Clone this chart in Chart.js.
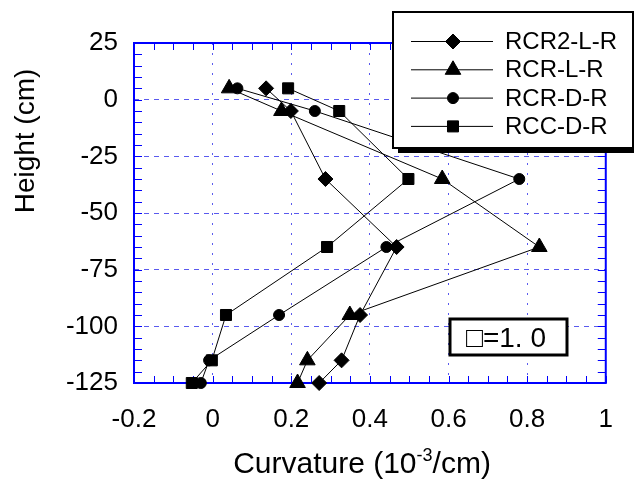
<!DOCTYPE html>
<html>
<head>
<meta charset="utf-8">
<script src="https://cdn.jsdelivr.net/npm/chart.js@4.4.1/dist/chart.umd.min.js"></script>
<style>
  body { margin: 0; background: #fff; }
  #myChart { display: block; }
</style>
</head>
<body>
<canvas id="myChart" width="634" height="483"></canvas>
<script>
// heights of the measuring sections (cm), top to bottom
var heights = [5, -5, -35, -65, -95, -115, -125];

// curvature (10^-3/cm) for each specimen, same order as heights
var rcr2LR = [0.136, 0.199, 0.287, 0.468, 0.375, 0.328, 0.271];
var rcrLR  = [0.042, 0.175, 0.584, 0.831, 0.349, 0.241, 0.216];
var rcrDR  = [0.063, 0.260, 0.780, 0.442, 0.169, -0.009, -0.030];
var rccDR  = [0.192, 0.322, 0.498, 0.291, 0.034, -0.002, -0.053];

var seriesNames = ['RCR2-L-R', 'RCR-L-R', 'RCR-D-R', 'RCC-D-R'];
var xTicks = [-0.2, 0, 0.2, 0.4, 0.6, 0.8, 1];
var yTicks = [25, 0, -25, -50, -75, -100, -125];
var noteText = '\u25A1=1. 0';

var FONT = '"Liberation Sans", Arial, sans-serif';
var BLUE = '#0000ff';
var GRID_BLUE = '#5a5aee';

function toPoints(xs) {
    var pts = [];
    for (var i = 0; i < xs.length; i++) {
        pts.push({ x: xs[i], y: heights[i] });
    }
    return pts;
}

function makeSet(label, xs, style, radius) {
    return {
        label: label,
        data: toPoints(xs),
        showLine: true,
        borderColor: '#000',
        backgroundColor: '#000',
        borderWidth: 1,
        pointStyle: style,
        pointRadius: radius,
        pointHoverRadius: radius,
        pointBackgroundColor: '#000',
        pointBorderColor: '#000',
        pointBorderWidth: 1,
        clip: false
    };
}

// frame + inward minor ticks, drawn under the data
var framePlugin = {
    id: 'frame',
    beforeDatasetsDraw: function (chart) {
        var ctx = chart.ctx;
        var a = chart.chartArea;
        var xs = chart.scales.x, ys = chart.scales.y;
        ctx.save();
        ctx.strokeStyle = BLUE;
        ctx.lineWidth = 1;
        ctx.beginPath();
        for (var i = 0; i <= 24; i++) {
            var px = Math.round(xs.getPixelForValue(-0.2 + i * 0.05)) + 0.5;
            ctx.moveTo(px, a.bottom); ctx.lineTo(px, a.bottom - 7);
            ctx.moveTo(px, a.top); ctx.lineTo(px, a.top + 7);
        }
        for (var j = 0; j <= 30; j++) {
            var py = Math.round(ys.getPixelForValue(-125 + j * 5)) + 0.5;
            ctx.moveTo(a.left, py); ctx.lineTo(a.left + 8, py);
            ctx.moveTo(a.right, py); ctx.lineTo(a.right - 8, py);
        }
        ctx.stroke();
        ctx.lineWidth = 2;
        ctx.strokeRect(a.left, a.top, a.right - a.left, a.bottom - a.top);
        ctx.restore();
    }
};

// titles, legend box and note box
var decorPlugin = {
    id: 'decor',
    afterDraw: function (chart) {
        var ctx = chart.ctx;
        ctx.save();
        ctx.fillStyle = '#000';

        // x title with superscript
        var big = '30px ' + FONT, small = '18px ' + FONT;
        var p1 = 'Curvature (10', p2 = '-3', p3 = '/cm)';
        ctx.font = big; var w1 = ctx.measureText(p1).width; var w3 = ctx.measureText(p3).width;
        ctx.font = small; var w2 = ctx.measureText(p2).width;
        var x0 = 362 - (w1 + w2 + w3) / 2;
        ctx.textBaseline = 'alphabetic';
        ctx.textAlign = 'left';
        ctx.font = big; ctx.fillText(p1, x0, 473);
        ctx.font = small; ctx.fillText(p2, x0 + w1, 461);
        ctx.font = big; ctx.fillText(p3, x0 + w1 + w2, 473);

        // y title
        ctx.save();
        ctx.translate(26, 141);
        ctx.rotate(-Math.PI / 2);
        ctx.textAlign = 'center';
        ctx.textBaseline = 'middle';
        ctx.font = '28px ' + FONT;
        ctx.fillText('Height (cm)', 0, 0);
        ctx.restore();

        // legend box with shadow
        var lx = 393, ly = 12, lw = 240, lh = 136;
        ctx.fillStyle = '#000';
        ctx.fillRect(lx + 5, ly + 5, lw, lh);
        ctx.fillStyle = '#fff';
        ctx.fillRect(lx, ly, lw, lh);
        ctx.strokeStyle = '#000';
        ctx.lineWidth = 2;
        ctx.strokeRect(lx, ly, lw, lh);

        var sets = chart.data.datasets;
        ctx.font = '24px ' + FONT;
        ctx.textBaseline = 'middle';
        ctx.textAlign = 'left';
        for (var i = 0; i < sets.length; i++) {
            var ry = 41.5 + i * 28.3;
            ctx.strokeStyle = '#000';
            ctx.lineWidth = 1;
            ctx.beginPath();
            ctx.moveTo(411, ry); ctx.lineTo(493, ry);
            ctx.stroke();
            ctx.fillStyle = '#000';
            Chart.helpers.drawPoint(ctx, {
                pointStyle: sets[i].pointStyle,
                radius: sets[i].pointRadius,
                rotation: 0,
                borderWidth: 1
            }, 453, ry);
            ctx.fillStyle = '#000';
            ctx.fillText(sets[i].label, 505, ry + 1);
        }

        // note box
        ctx.fillStyle = '#fff';
        ctx.fillRect(450, 319, 117, 36);
        ctx.strokeStyle = '#000';
        ctx.lineWidth = 3;
        ctx.strokeRect(450, 319, 117, 36);
        ctx.fillStyle = '#000';
        ctx.font = '28px ' + FONT;
        ctx.textBaseline = 'alphabetic';
        ctx.fillText(noteText, 466, 347);
        ctx.restore();
    }
};

function renderChart() {
    var ctx = document.getElementById('myChart');
    new Chart(ctx, {
        type: 'scatter',
        data: {
            datasets: [
                makeSet(seriesNames[0], rcr2LR, 'rectRot', 7.5),
                makeSet(seriesNames[1], rcrLR, 'triangle', 9),
                makeSet(seriesNames[2], rcrDR, 'circle', 5.5),
                makeSet(seriesNames[3], rccDR, 'rect', 7.8)
            ]
        },
        plugins: [framePlugin, decorPlugin],
        options: {
            responsive: false,
            animation: false,
            devicePixelRatio: 1,
            layout: { padding: { top: 43, right: 28, left: 0, bottom: 0 } },
            plugins: {
                legend: { display: false },
                tooltip: { enabled: false }
            },
            scales: {
                x: {
                    type: 'linear',
                    min: -0.2,
                    max: 1,
                    afterFit: function (s) { s.height = 100; },
                    afterBuildTicks: function (s) {
                        s.ticks = xTicks.map(function (v) { return { value: v }; });
                    },
                    grid: { color: GRID_BLUE, lineWidth: 1, drawTicks: false },
                    border: { display: false, dash: [2, 8] },
                    ticks: {
                        padding: 21,
                        color: '#000',
                        font: { family: FONT, size: 26 },
                        maxRotation: 0,
                        callback: function (v) { return String(Math.round(v * 10) / 10); }
                    }
                },
                y: {
                    type: 'linear',
                    min: -125,
                    max: 25,
                    afterFit: function (s) { s.width = 134; },
                    afterBuildTicks: function (s) {
                        s.ticks = yTicks.map(function (v) { return { value: v }; });
                    },
                    grid: { color: GRID_BLUE, lineWidth: 1, drawTicks: false },
                    border: { display: false, dash: [5, 5] },
                    ticks: {
                        padding: 16,
                        color: '#000',
                        font: { family: FONT, size: 26 },
                        callback: function (v) { return String(v); }
                    }
                }
            }
        }
    });
}

renderChart();
</script>
</body>
</html>
